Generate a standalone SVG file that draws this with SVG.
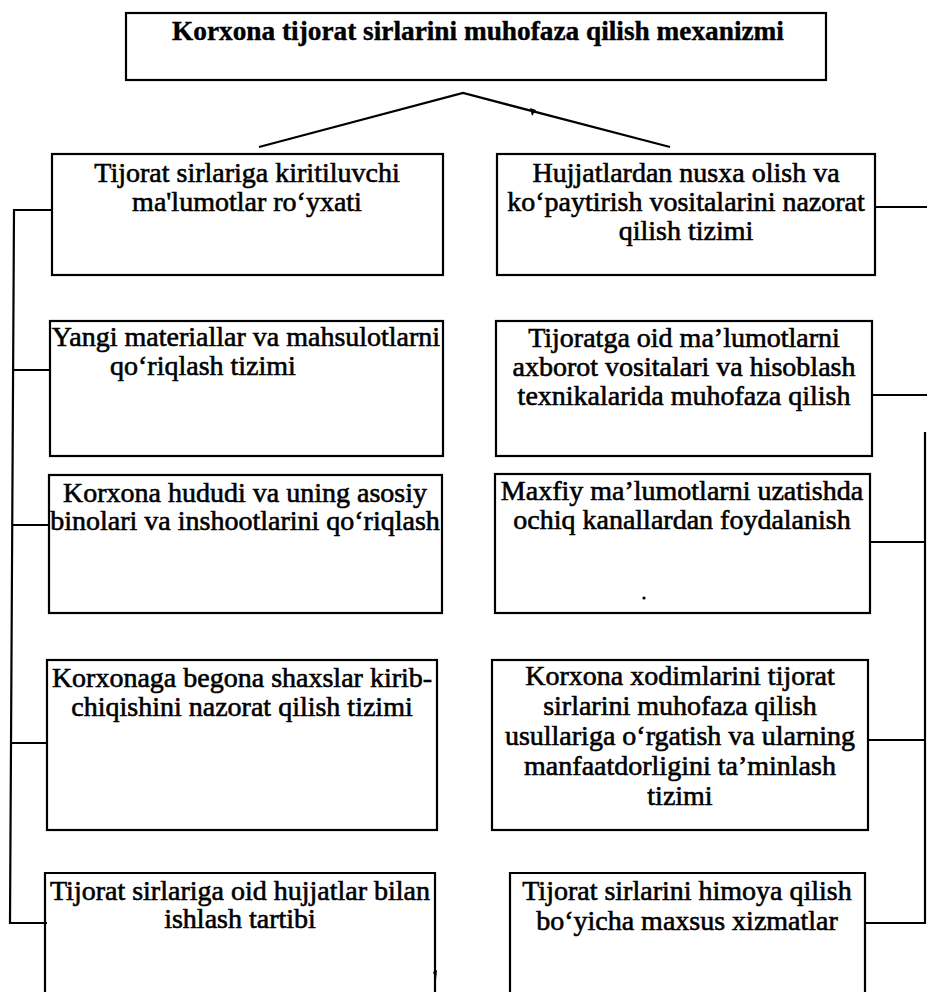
<svg xmlns="http://www.w3.org/2000/svg" width="927" height="992" viewBox="0 0 927 992">
<style>
  .box{fill:#fff;stroke:#000;stroke-width:2.2}
  .open{fill:none;stroke:#000;stroke-width:2.2}
  .ln{fill:none;stroke:#000;stroke-width:2.2}
  .t{font-family:"Liberation Serif","Times New Roman",serif;font-size:28px;fill:#000;stroke:#000;stroke-width:0.6;text-anchor:middle}
  .ts{text-anchor:start}
  .title{font-family:"Liberation Serif","Times New Roman",serif;font-size:27.3px;font-weight:bold;fill:#000;stroke:#000;stroke-width:0.4;text-anchor:middle}
</style>
<rect width="927" height="992" fill="#fff"/>

<g id="connectors">
  <polyline class="ln" points="259,147 463,93 670,147" stroke-width="2.6"/>
  <path d="M530,108 L536,110 L532,116 Z" fill="#000"/>
  <polyline class="ln" points="52,210 14,210 10,923 47,923"/>
  <line class="ln" x1="12" y1="370" x2="50" y2="370"/>
  <line class="ln" x1="12" y1="525" x2="49" y2="525"/>
  <line class="ln" x1="11" y1="743" x2="47" y2="743"/>
  <line class="ln" x1="875" y1="207" x2="927" y2="207"/>
  <line class="ln" x1="872" y1="395" x2="927" y2="395"/>
  <line class="ln" x1="870" y1="542" x2="925" y2="542"/>
  <line class="ln" x1="925" y1="432" x2="925" y2="924"/>
  <line class="ln" x1="868" y1="740" x2="925" y2="740"/>
  <line class="ln" x1="865" y1="923" x2="925" y2="923"/>
</g>

<g id="root">
  <rect class="box" x="126" y="13" width="700" height="67"/>
  <text class="title" x="478" y="40">Korxona tijorat sirlarini muhofaza qilish mexanizmi</text>
</g>

<g id="L1">
  <rect class="box" x="52" y="154" width="391" height="121"/>
  <text class="t" x="247" y="182">Tijorat sirlariga kiritiluvchi</text>
  <text class="t" x="247" y="211">ma'lumotlar ro‘yxati</text>
</g>

<g id="L2">
  <rect class="box" x="50" y="321" width="393" height="135"/>
  <text class="t" x="246" y="346">Yangi materiallar va mahsulotlarni</text>
  <text class="t ts" x="110" y="375">qo‘riqlash tizimi</text>
</g>

<g id="L3">
  <rect class="box" x="49" y="475" width="393" height="138"/>
  <text class="t" x="245" y="502">Korxona hududi va uning asosiy</text>
  <text class="t" x="245" y="530">binolari va inshootlarini qo‘riqlash</text>
</g>

<g id="L4">
  <rect class="box" x="47" y="660" width="390" height="170"/>
  <text class="t" x="242" y="687">Korxonaga begona shaxslar kirib-</text>
  <text class="t" x="242" y="716">chiqishini nazorat qilish tizimi</text>
</g>

<g id="L5">
  <path class="open" d="M45,993 L45,873 L435,873 L435,993"/>
  <path d="M433,972 L437,970 L436,980 Z" fill="#000"/>
  <text class="t" x="240" y="900">Tijorat sirlariga oid hujjatlar bilan</text>
  <text class="t" x="240" y="928">ishlash tartibi</text>
</g>

<g id="R1">
  <rect class="box" x="497" y="154" width="378" height="121"/>
  <text class="t" x="686" y="182">Hujjatlardan nusxa olish va</text>
  <text class="t" x="686" y="211">ko‘paytirish vositalarini nazorat</text>
  <text class="t" x="686" y="240">qilish tizimi</text>
</g>

<g id="R2">
  <rect class="box" x="496" y="321" width="376" height="135"/>
  <text class="t" x="684" y="347">Tijoratga oid ma’lumotlarni</text>
  <text class="t" x="684" y="376">axborot vositalari va hisoblash</text>
  <text class="t" x="684" y="405">texnikalarida muhofaza qilish</text>
</g>

<g id="R3">
  <rect class="box" x="495" y="474" width="375" height="139"/>
  <text class="t" x="682" y="500">Maxfiy ma’lumotlarni uzatishda</text>
  <text class="t" x="682" y="529">ochiq kanallardan foydalanish</text>
  <circle cx="644" cy="598" r="1.6" fill="#000"/>
</g>

<g id="R4">
  <rect class="box" x="492" y="660" width="376" height="170"/>
  <text class="t" x="680" y="685">Korxona xodimlarini tijorat</text>
  <text class="t" x="680" y="715">sirlarini muhofaza qilish</text>
  <text class="t" x="680" y="745">usullariga o‘rgatish va ularning</text>
  <text class="t" x="680" y="775">manfaatdorligini ta’minlash</text>
  <text class="t" x="680" y="805">tizimi</text>
</g>

<g id="R5">
  <path class="open" d="M510,993 L510,873 L865,873 L865,993"/>
  <text class="t" x="687" y="900">Tijorat sirlarini himoya qilish</text>
  <text class="t" x="687" y="930">bo‘yicha maxsus xizmatlar</text>
</g>
</svg>
